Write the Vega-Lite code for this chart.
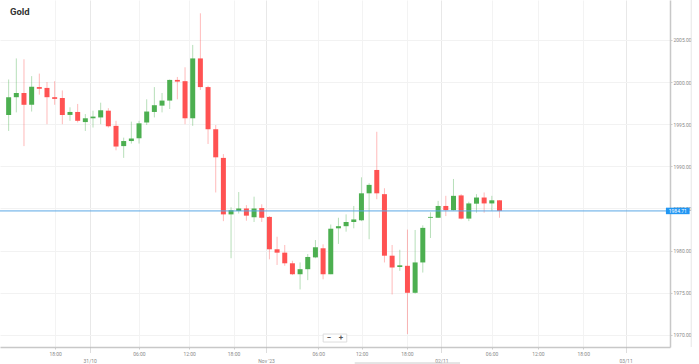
{
  "$schema": "https://vega.github.io/schema/vega-lite/v6.json",
  "width": 670,
  "height": 347,
  "autosize": {"type": "none"},
  "padding": {"left": 0, "top": 0, "right": 29, "bottom": 17},
  "background": "#ffffff",
  "config": {"view": {"stroke": null}, "font": "Roboto", "axis": {"labelFont": "Roboto"}},
  "title": {"text": "Gold", "anchor": "start", "frame": "group", "orient": "top", "baseline": "middle", "offset": -22, "dx": 10, "fontSize": 9.5, "fontWeight": "bold", "color": "#333333", "font": "Roboto"},
  "datasets": {
    "candles": [
      {"i":0,"o":1996.1,"h":2000.3,"l":1994.2,"c":1998.2},
      {"i":1,"o":1998.2,"h":2002.8,"l":1996.4,"c":1998.7},
      {"i":2,"o":1998.7,"h":2002.7,"l":1992.4,"c":1997.3},
      {"i":3,"o":1997.3,"h":2000.7,"l":1996.5,"c":1999.45},
      {"i":4,"o":1999.4,"h":2001.0,"l":1998.5,"c":1999.2},
      {"i":5,"o":1999.3,"h":2000.0,"l":1995.0,"c":1998.2},
      {"i":6,"o":1998.2,"h":2000.1,"l":1997.3,"c":1998.0},
      {"i":7,"o":1998.1,"h":1999.0,"l":1995.0,"c":1996.1},
      {"i":8,"o":1996.1,"h":1997.0,"l":1995.4,"c":1996.45},
      {"i":9,"o":1996.45,"h":1997.4,"l":1995.2,"c":1995.4},
      {"i":10,"o":1995.25,"h":1996.2,"l":1994.2,"c":1995.7},
      {"i":11,"o":1995.7,"h":1996.6,"l":1994.6,"c":1995.9},
      {"i":12,"o":1995.8,"h":1997.55,"l":1995.0,"c":1996.65},
      {"i":13,"o":1996.6,"h":1996.9,"l":1994.6,"c":1994.75},
      {"i":14,"o":1994.8,"h":1995.4,"l":1991.9,"c":1992.35},
      {"i":15,"o":1992.4,"h":1993.4,"l":1991.0,"c":1993.0},
      {"i":16,"o":1993.0,"h":1995.3,"l":1992.7,"c":1993.3},
      {"i":17,"o":1993.33,"h":1995.4,"l":1992.7,"c":1995.1},
      {"i":18,"o":1995.2,"h":1997.95,"l":1994.9,"c":1996.5},
      {"i":19,"o":1996.45,"h":1999.4,"l":1995.8,"c":1997.25},
      {"i":20,"o":1997.2,"h":1998.7,"l":1996.4,"c":1997.8},
      {"i":21,"o":1997.8,"h":2000.3,"l":1996.8,"c":2000.25},
      {"i":22,"o":2000.25,"h":2000.6,"l":1997.95,"c":2000.05},
      {"i":23,"o":2000.1,"h":2001.75,"l":1995.0,"c":1995.7},
      {"i":24,"o":1995.7,"h":2004.4,"l":1994.8,"c":2002.8},
      {"i":25,"o":2002.8,"h":2008.15,"l":1999.06,"c":1999.4},
      {"i":26,"o":1999.4,"h":1999.55,"l":1992.65,"c":1994.4},
      {"i":27,"o":1994.4,"h":1994.9,"l":1986.9,"c":1991.07},
      {"i":28,"o":1991.0,"h":1991.45,"l":1983.5,"c":1984.3},
      {"i":29,"o":1984.3,"h":1985.15,"l":1979.1,"c":1984.8},
      {"i":30,"o":1984.7,"h":1986.95,"l":1984.4,"c":1985.0},
      {"i":31,"o":1985.0,"h":1985.4,"l":1983.55,"c":1984.15},
      {"i":32,"o":1983.95,"h":1986.4,"l":1983.4,"c":1985.0},
      {"i":33,"o":1985.05,"h":1985.5,"l":1983.4,"c":1983.9},
      {"i":34,"o":1984.0,"h":1984.1,"l":1978.97,"c":1980.16},
      {"i":35,"o":1980.16,"h":1981.65,"l":1978.3,"c":1979.76},
      {"i":36,"o":1979.76,"h":1980.67,"l":1978.2,"c":1978.5},
      {"i":37,"o":1978.5,"h":1978.8,"l":1977.1,"c":1977.2},
      {"i":38,"o":1977.2,"h":1978.6,"l":1975.4,"c":1977.8},
      {"i":39,"o":1977.8,"h":1979.6,"l":1976.5,"c":1979.25},
      {"i":40,"o":1979.2,"h":1981.26,"l":1979.1,"c":1980.4},
      {"i":41,"o":1980.28,"h":1980.75,"l":1976.6,"c":1977.2},
      {"i":42,"o":1977.2,"h":1983.1,"l":1977.2,"c":1982.6},
      {"i":43,"o":1982.65,"h":1983.9,"l":1980.8,"c":1982.9},
      {"i":44,"o":1982.9,"h":1984.3,"l":1982.25,"c":1983.4},
      {"i":45,"o":1983.4,"h":1985.3,"l":1982.65,"c":1983.7},
      {"i":46,"o":1983.6,"h":1988.7,"l":1983.5,"c":1986.8},
      {"i":47,"o":1986.8,"h":1988.0,"l":1981.35,"c":1987.8},
      {"i":48,"o":1989.57,"h":1994.1,"l":1986.1,"c":1986.8},
      {"i":49,"o":1986.7,"h":1987.4,"l":1978.6,"c":1979.4},
      {"i":50,"o":1979.4,"h":1980.67,"l":1974.8,"c":1978.0},
      {"i":51,"o":1978.06,"h":1980.1,"l":1977.6,"c":1978.26},
      {"i":52,"o":1978.2,"h":1982.5,"l":1970.1,"c":1975.0},
      {"i":53,"o":1975.0,"h":1982.45,"l":1974.9,"c":1978.6},
      {"i":54,"o":1978.6,"h":1983.0,"l":1977.4,"c":1982.7},
      {"i":55,"o":1983.9,"h":1984.55,"l":1981.5,"c":1984.0},
      {"i":56,"o":1983.9,"h":1985.9,"l":1983.9,"c":1985.3},
      {"i":57,"o":1985.3,"h":1986.5,"l":1984.1,"c":1984.8},
      {"i":58,"o":1984.8,"h":1988.5,"l":1984.75,"c":1986.5},
      {"i":59,"o":1986.55,"h":1986.7,"l":1983.7,"c":1983.8},
      {"i":60,"o":1983.8,"h":1985.8,"l":1983.5,"c":1985.6},
      {"i":61,"o":1985.57,"h":1986.7,"l":1984.5,"c":1986.3},
      {"i":62,"o":1986.3,"h":1986.9,"l":1984.5,"c":1985.6},
      {"i":63,"o":1985.6,"h":1986.5,"l":1984.7,"c":1985.97},
      {"i":64,"o":1985.97,"h":1986.0,"l":1983.9,"c":1984.71}
    ]
  },
  "resolve": {"axis": {"x": "independent", "y": "independent"}},
  "layer": [
    {
      "data": {"name": "candles"},
      "mark": {"type": "rule", "strokeWidth": 1, "opacity": 0.4},
      "encoding": {
        "x": {"field": "i", "type": "quantitative",
          "scale": {"domain": [-0.475, 85.58], "nice": false, "zero": false},
          "axis": {"orient": "bottom", "title": null,
            "values": [6.07, 16.99, 23.54, 29.32, 40.37, 46.02, 51.93, 62.97, 69.01, 74.92],
            "labelExpr": "datum.value < 12 ? '18:00' : datum.value < 20 ? '06:00' : datum.value < 26 ? '12:00' : datum.value < 35 ? '18:00' : datum.value < 43 ? '06:00' : datum.value < 49 ? '12:00' : datum.value < 58 ? '18:00' : datum.value < 66 ? '06:00' : datum.value < 72 ? '12:00' : '18:00'",
            "labelFontSize": 5, "labelColor": "#8a8a8a", "labelPadding": 2, "labelFlush": false,
            "tickSize": 2, "tickColor": "#cccccc",
            "domain": true, "domainColor": "#c8c8c8", "domainWidth": 1.5,
            "grid": true, "gridColor": "#f3f3f3", "gridWidth": 1}},
        "y": {"field": "l", "type": "quantitative",
          "scale": {"domain": [1968.57, 2009.73], "nice": false, "zero": false},
          "axis": {"orient": "right", "title": null,
            "values": [1970, 1975, 1980, 1985, 1990, 1995, 2000, 2005],
            "format": ".2f", "labelFontSize": 5, "labelColor": "#8a8a8a", "labelPadding": 1,
            "tickSize": 2, "tickColor": "#cccccc",
            "domain": true, "domainColor": "#c8c8c8", "domainWidth": 1.5,
            "grid": true, "gridColor": "#f2f2f2", "gridWidth": 1}},
        "y2": {"field": "h"},
        "color": {"condition": {"test": "datum.c >= datum.o", "value": "#4caf50"}, "value": "#ff5252"}
      }
    },
    {
      "data": {"name": "candles"},
      "mark": {"type": "bar", "width": 5},
      "encoding": {
        "x": {"field": "i", "type": "quantitative",
          "scale": {"domain": [-0.475, 85.58], "nice": false, "zero": false},
          "axis": {"orient": "bottom", "title": null,
            "values": [10.57, 33.56, 56.42, 80.44],
            "labelExpr": "datum.value < 20 ? '31/10' : datum.value < 45 ? \"Nov '23\" : datum.value < 70 ? '02/11' : '03/11'",
            "labelFontSize": 5, "labelColor": "#8a8a8a", "labelPadding": 6, "labelFlush": false,
            "tickSize": 5, "tickColor": "#bbbbbb", "tickDash": [1, 1],
            "domain": false,
            "grid": true, "gridColor": "#e8e8e8", "gridWidth": 1}},
        "y": {"field": "o", "type": "quantitative",
          "scale": {"domain": [1968.57, 2009.73], "nice": false, "zero": false}, "axis": null},
        "y2": {"field": "c"},
        "color": {"condition": {"test": "datum.c >= datum.o", "value": "#4caf50"}, "value": "#ff5252"}
      }
    },
    {
      "data": {"values": [{"p": 1984.71}]},
      "mark": {"type": "rule", "color": "#5aa7e6", "strokeWidth": 1},
      "encoding": {
        "y": {"field": "p", "type": "quantitative",
          "scale": {"domain": [1968.57, 2009.73], "nice": false, "zero": false}, "axis": null}
      }
    },
    {
      "data": {"values": [{"p": 1984.71}]},
      "mark": {"type": "rule", "color": "#2196f3", "strokeWidth": 6.5, "strokeCap": "butt"},
      "encoding": {
        "x": {"datum": 85.7, "type": "quantitative", "scale": {"domain": [-0.475, 85.58], "nice": false, "zero": false}, "axis": null},
        "x2": {"datum": 88.79},
        "y": {"field": "p", "type": "quantitative",
          "scale": {"domain": [1968.57, 2009.73], "nice": false, "zero": false}, "axis": null}
      }
    },
    {
      "data": {"values": [{"p": 1984.71, "label": "1984.71"}]},
      "mark": {"type": "text", "color": "#ffffff", "fontSize": 5, "align": "center", "baseline": "middle", "font": "Roboto"},
      "encoding": {
        "x": {"datum": 87.25, "type": "quantitative", "scale": {"domain": [-0.475, 85.58], "nice": false, "zero": false}, "axis": null},
        "y": {"field": "p", "type": "quantitative",
          "scale": {"domain": [1968.57, 2009.73], "nice": false, "zero": false}, "axis": null},
        "text": {"field": "label"}
      }
    },
    {
      "data": {"values": [{"a": 1}]},
      "mark": {"type": "rect", "fill": "#ffffff", "stroke": "#dddddd", "strokeWidth": 1},
      "encoding": {
        "x": {"datum": 41.01, "type": "quantitative", "scale": {"domain": [-0.475, 85.58], "nice": false, "zero": false}, "axis": null},
        "x2": {"datum": 44.09},
        "y": {"datum": 1970.11, "type": "quantitative", "scale": {"domain": [1968.57, 2009.73], "nice": false, "zero": false}, "axis": null},
        "y2": {"datum": 1969.16}
      }
    },
    {
      "data": {"values": [{"k": 41.78, "s": "−"}, {"k": 43.32, "s": "+"}]},
      "mark": {"type": "text", "color": "#555555", "fontSize": 8, "fontWeight": "bold", "align": "center", "baseline": "middle", "font": "Roboto"},
      "encoding": {
        "x": {"field": "k", "type": "quantitative", "scale": {"domain": [-0.475, 85.58], "nice": false, "zero": false}, "axis": null},
        "y": {"datum": 1969.64, "type": "quantitative", "scale": {"domain": [1968.57, 2009.73], "nice": false, "zero": false}, "axis": null},
        "text": {"field": "s"}
      }
    },
    {
      "data": {"values": [{"a": 1}]},
      "mark": {"type": "rule", "color": "#e6e6e6", "strokeWidth": 1},
      "encoding": {
        "x": {"datum": 89.0, "type": "quantitative", "scale": {"domain": [-0.475, 85.58], "nice": false, "zero": false}, "axis": null}
      }
    },
    {
      "data": {"values": [{"a": 1}]},
      "mark": {"type": "rule", "color": "#cccccc", "strokeWidth": 1},
      "encoding": {
        "x": {"datum": 45.12, "type": "quantitative", "scale": {"domain": [-0.475, 85.58], "nice": false, "zero": false}, "axis": null},
        "x2": {"datum": 58.86},
        "y": {"datum": 1966.67, "type": "quantitative", "scale": {"domain": [1968.57, 2009.73], "nice": false, "zero": false}, "axis": null}
      }
    }
  ]
}
